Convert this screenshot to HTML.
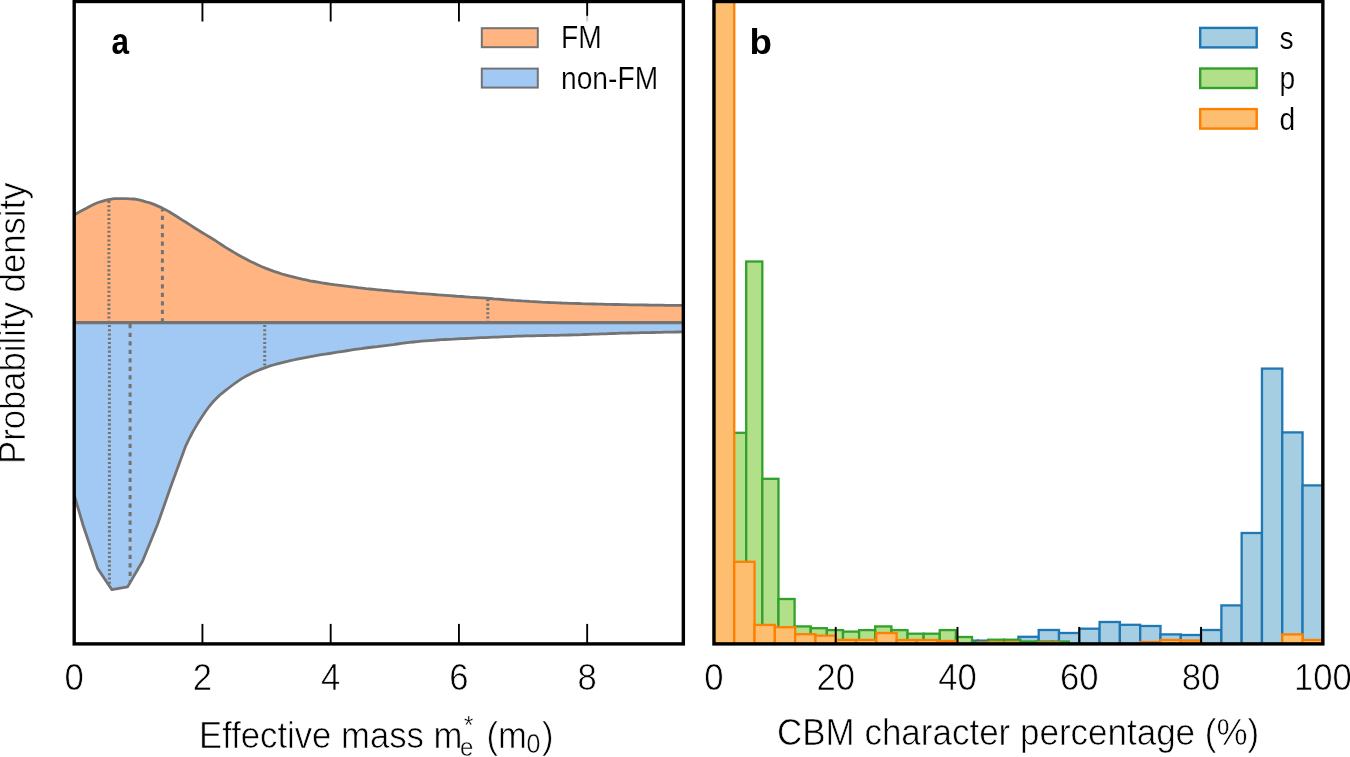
<!DOCTYPE html>
<html><head><meta charset="utf-8"><style>
html,body{margin:0;padding:0;background:#fff;overflow:hidden;}
body{width:1350px;height:757px;}
svg{display:block;will-change:transform;}
text{font-family:"Liberation Sans",sans-serif;}
text.t{stroke:#fff;stroke-width:0.6px;}
</style></head><body>
<svg width="1350" height="757" viewBox="0 0 1350 757">
<defs><clipPath id="ca"><rect x="74.20" y="1.50" width="609.15" height="642.40"/></clipPath>
<clipPath id="cb"><rect x="713.95" y="1.50" width="608.90" height="642.40"/></clipPath></defs>
<g clip-path="url(#ca)">
<polygon points="58.0,223.0 62.0,221.1 66.0,219.2 70.0,217.1 74.0,215.0 78.0,212.8 82.0,210.5 86.0,208.4 90.0,206.2 94.0,204.2 98.0,202.5 102.0,201.3 106.0,200.2 110.0,199.3 114.0,198.7 118.0,198.6 122.0,198.6 126.0,198.7 130.0,198.8 134.0,199.0 138.0,199.6 142.0,200.6 146.0,201.8 150.0,202.9 154.0,204.4 158.0,206.1 162.0,207.9 166.0,209.9 170.0,212.2 174.0,214.7 178.0,217.2 182.0,219.8 186.0,222.3 190.0,224.9 194.0,227.5 198.0,230.0 202.0,232.5 206.0,234.9 210.0,237.3 214.0,239.7 218.0,242.3 222.0,245.0 226.0,247.6 230.0,250.0 234.0,252.4 238.0,254.8 242.0,257.0 246.0,259.1 250.0,261.2 254.0,263.1 258.0,265.0 262.0,266.8 266.0,268.4 270.0,269.9 274.0,271.4 278.0,272.7 282.0,274.0 286.0,275.1 290.0,276.2 294.0,277.2 298.0,278.2 302.0,279.1 306.0,279.9 310.0,280.8 314.0,281.5 318.0,282.2 322.0,282.9 326.0,283.5 330.0,284.1 334.0,284.7 338.0,285.2 342.0,285.7 346.0,286.2 350.0,286.7 354.0,287.2 358.0,287.7 362.0,288.1 366.0,288.6 370.0,289.0 374.0,289.4 378.0,289.8 382.0,290.2 386.0,290.5 390.0,290.9 394.0,291.3 398.0,291.6 402.0,291.9 406.0,292.3 410.0,292.6 414.0,292.9 418.0,293.3 422.0,293.6 426.0,293.9 430.0,294.2 434.0,294.5 438.0,294.8 442.0,295.1 446.0,295.4 450.0,295.7 454.0,296.0 458.0,296.3 462.0,296.5 466.0,296.8 470.0,297.1 474.0,297.3 478.0,297.6 482.0,297.9 486.0,298.2 490.0,298.5 494.0,298.9 498.0,299.2 502.0,299.5 506.0,299.8 510.0,300.1 514.0,300.4 518.0,300.6 522.0,300.9 526.0,301.1 530.0,301.4 534.0,301.6 538.0,301.8 542.0,302.1 546.0,302.3 550.0,302.5 554.0,302.6 558.0,302.8 562.0,303.0 566.0,303.1 570.0,303.3 574.0,303.4 578.0,303.5 582.0,303.7 586.0,303.8 590.0,303.9 594.0,304.0 598.0,304.1 602.0,304.2 606.0,304.3 610.0,304.4 614.0,304.5 618.0,304.5 622.0,304.6 626.0,304.7 630.0,304.8 634.0,304.8 638.0,304.9 642.0,304.9 646.0,305.0 650.0,305.1 654.0,305.1 658.0,305.2 662.0,305.2 666.0,305.3 670.0,305.3 674.0,305.4 678.0,305.4 682.0,305.4 686.0,305.5 690.0,305.5 690.0,322.6 60.0,322.6" fill="#ffb482" stroke="none"/>
<polygon points="60.0,322.6 690.0,322.6 690.0,331.8 689.3,331.8 685.3,331.9 681.3,331.9 677.3,332.0 673.3,332.1 669.3,332.1 665.3,332.2 661.3,332.3 657.3,332.4 653.3,332.5 649.3,332.6 645.3,332.6 641.3,332.7 637.3,332.8 633.3,332.9 629.3,333.0 625.3,333.1 621.3,333.2 617.3,333.4 613.3,333.5 609.3,333.6 605.3,333.8 601.3,333.9 597.3,334.1 593.3,334.2 589.3,334.4 585.3,334.5 581.3,334.7 577.3,334.8 573.3,334.9 569.3,335.0 565.3,335.1 561.3,335.2 557.3,335.3 553.3,335.4 549.3,335.4 545.3,335.5 541.3,335.6 537.3,335.7 533.3,335.8 529.3,335.8 525.3,335.9 521.3,336.1 517.3,336.2 513.3,336.4 509.3,336.6 505.3,336.7 501.3,336.9 497.3,337.1 493.3,337.2 489.3,337.4 485.3,337.6 481.3,337.7 477.3,337.9 473.3,338.1 469.3,338.3 465.3,338.5 461.3,338.6 457.3,338.8 453.3,339.1 449.3,339.3 445.3,339.5 441.3,339.7 437.3,340.0 433.3,340.3 429.3,340.6 425.3,340.9 421.3,341.2 417.3,341.6 413.3,342.0 409.3,342.4 405.3,342.9 401.3,343.4 397.3,344.0 393.3,344.6 389.3,345.1 385.3,345.6 381.3,346.1 377.3,346.6 373.3,347.0 369.3,347.5 365.3,348.0 361.3,348.6 357.3,349.1 353.3,349.7 349.3,350.3 345.3,351.0 341.3,351.6 337.3,352.2 333.3,352.8 329.3,353.5 325.3,354.1 321.3,354.7 317.3,355.4 313.3,356.1 309.3,356.8 305.3,357.6 301.3,358.4 297.3,359.2 293.3,360.0 289.3,360.9 285.3,361.8 281.3,362.8 277.3,363.9 273.3,365.0 269.3,366.2 265.3,367.6 261.3,369.1 257.3,370.7 253.3,372.5 249.3,374.5 245.3,376.6 241.3,378.9 237.3,381.6 233.3,384.5 229.3,387.5 225.3,390.6 221.3,393.8 217.3,397.4 213.3,401.5 209.3,406.3 205.3,411.8 201.3,417.7 197.3,424.1 193.3,430.9 189.3,438.5 185.3,446.9 171.0,486.0 157.5,524.5 142.5,561.3 127.6,586.9 111.9,589.7 97.6,568.4 83.0,525.0 68.4,475.0" fill="#a1c9f4" stroke="none"/>
<polyline points="58.0,223.0 62.0,221.1 66.0,219.2 70.0,217.1 74.0,215.0 78.0,212.8 82.0,210.5 86.0,208.4 90.0,206.2 94.0,204.2 98.0,202.5 102.0,201.3 106.0,200.2 110.0,199.3 114.0,198.7 118.0,198.6 122.0,198.6 126.0,198.7 130.0,198.8 134.0,199.0 138.0,199.6 142.0,200.6 146.0,201.8 150.0,202.9 154.0,204.4 158.0,206.1 162.0,207.9 166.0,209.9 170.0,212.2 174.0,214.7 178.0,217.2 182.0,219.8 186.0,222.3 190.0,224.9 194.0,227.5 198.0,230.0 202.0,232.5 206.0,234.9 210.0,237.3 214.0,239.7 218.0,242.3 222.0,245.0 226.0,247.6 230.0,250.0 234.0,252.4 238.0,254.8 242.0,257.0 246.0,259.1 250.0,261.2 254.0,263.1 258.0,265.0 262.0,266.8 266.0,268.4 270.0,269.9 274.0,271.4 278.0,272.7 282.0,274.0 286.0,275.1 290.0,276.2 294.0,277.2 298.0,278.2 302.0,279.1 306.0,279.9 310.0,280.8 314.0,281.5 318.0,282.2 322.0,282.9 326.0,283.5 330.0,284.1 334.0,284.7 338.0,285.2 342.0,285.7 346.0,286.2 350.0,286.7 354.0,287.2 358.0,287.7 362.0,288.1 366.0,288.6 370.0,289.0 374.0,289.4 378.0,289.8 382.0,290.2 386.0,290.5 390.0,290.9 394.0,291.3 398.0,291.6 402.0,291.9 406.0,292.3 410.0,292.6 414.0,292.9 418.0,293.3 422.0,293.6 426.0,293.9 430.0,294.2 434.0,294.5 438.0,294.8 442.0,295.1 446.0,295.4 450.0,295.7 454.0,296.0 458.0,296.3 462.0,296.5 466.0,296.8 470.0,297.1 474.0,297.3 478.0,297.6 482.0,297.9 486.0,298.2 490.0,298.5 494.0,298.9 498.0,299.2 502.0,299.5 506.0,299.8 510.0,300.1 514.0,300.4 518.0,300.6 522.0,300.9 526.0,301.1 530.0,301.4 534.0,301.6 538.0,301.8 542.0,302.1 546.0,302.3 550.0,302.5 554.0,302.6 558.0,302.8 562.0,303.0 566.0,303.1 570.0,303.3 574.0,303.4 578.0,303.5 582.0,303.7 586.0,303.8 590.0,303.9 594.0,304.0 598.0,304.1 602.0,304.2 606.0,304.3 610.0,304.4 614.0,304.5 618.0,304.5 622.0,304.6 626.0,304.7 630.0,304.8 634.0,304.8 638.0,304.9 642.0,304.9 646.0,305.0 650.0,305.1 654.0,305.1 658.0,305.2 662.0,305.2 666.0,305.3 670.0,305.3 674.0,305.4 678.0,305.4 682.0,305.4 686.0,305.5 690.0,305.5" fill="none" stroke="#737373" stroke-width="2.8" stroke-linejoin="round"/>
<polyline points="68.4,475.0 83.0,525.0 97.6,568.4 111.9,589.7 127.6,586.9 142.5,561.3 157.5,524.5 171.0,486.0 185.3,446.9 189.3,438.5 193.3,430.9 197.3,424.1 201.3,417.7 205.3,411.8 209.3,406.3 213.3,401.5 217.3,397.4 221.3,393.8 225.3,390.6 229.3,387.5 233.3,384.5 237.3,381.6 241.3,378.9 245.3,376.6 249.3,374.5 253.3,372.5 257.3,370.7 261.3,369.1 265.3,367.6 269.3,366.2 273.3,365.0 277.3,363.9 281.3,362.8 285.3,361.8 289.3,360.9 293.3,360.0 297.3,359.2 301.3,358.4 305.3,357.6 309.3,356.8 313.3,356.1 317.3,355.4 321.3,354.7 325.3,354.1 329.3,353.5 333.3,352.8 337.3,352.2 341.3,351.6 345.3,351.0 349.3,350.3 353.3,349.7 357.3,349.1 361.3,348.6 365.3,348.0 369.3,347.5 373.3,347.0 377.3,346.6 381.3,346.1 385.3,345.6 389.3,345.1 393.3,344.6 397.3,344.0 401.3,343.4 405.3,342.9 409.3,342.4 413.3,342.0 417.3,341.6 421.3,341.2 425.3,340.9 429.3,340.6 433.3,340.3 437.3,340.0 441.3,339.7 445.3,339.5 449.3,339.3 453.3,339.1 457.3,338.8 461.3,338.6 465.3,338.5 469.3,338.3 473.3,338.1 477.3,337.9 481.3,337.7 485.3,337.6 489.3,337.4 493.3,337.2 497.3,337.1 501.3,336.9 505.3,336.7 509.3,336.6 513.3,336.4 517.3,336.2 521.3,336.1 525.3,335.9 529.3,335.8 533.3,335.8 537.3,335.7 541.3,335.6 545.3,335.5 549.3,335.4 553.3,335.4 557.3,335.3 561.3,335.2 565.3,335.1 569.3,335.0 573.3,334.9 577.3,334.8 581.3,334.7 585.3,334.5 589.3,334.4 593.3,334.2 597.3,334.1 601.3,333.9 605.3,333.8 609.3,333.6 613.3,333.5 617.3,333.4 621.3,333.2 625.3,333.1 629.3,333.0 633.3,332.9 637.3,332.8 641.3,332.7 645.3,332.6 649.3,332.6 653.3,332.5 657.3,332.4 661.3,332.3 665.3,332.2 669.3,332.1 673.3,332.1 677.3,332.0 681.3,331.9 685.3,331.9 689.3,331.8 690.0,331.8" fill="none" stroke="#737373" stroke-width="2.8" stroke-linejoin="round"/>
<line x1="60" y1="322.6" x2="690" y2="322.6" stroke="#737373" stroke-width="3.2"/>
<line x1="108.9" y1="322.6" x2="108.9" y2="200.51370017896406" stroke="#737373" stroke-width="3.0" stroke-dasharray="2.05 2.23" stroke-dashoffset="0.15"/>
<line x1="162.4" y1="322.6" x2="162.4" y2="209.13154859795802" stroke="#737373" stroke-width="3.0" stroke-dasharray="4.27 4.27" stroke-dashoffset="0"/>
<line x1="487.8" y1="322.6" x2="487.8" y2="299.34666258467263" stroke="#737373" stroke-width="3.0" stroke-dasharray="2.05 2.23" stroke-dashoffset="0.15"/>
<line x1="109.4" y1="322.6" x2="109.4" y2="584.9762237762238" stroke="#737373" stroke-width="3.0" stroke-dasharray="2.05 2.23" stroke-dashoffset="1.95"/>
<line x1="130.1" y1="322.6" x2="130.1" y2="581.6046979865772" stroke="#737373" stroke-width="3.0" stroke-dasharray="4.27 4.27" stroke-dashoffset="-1.5"/>
<line x1="264.7" y1="322.6" x2="264.7" y2="366.8040854311224" stroke="#737373" stroke-width="3.0" stroke-dasharray="2.05 2.23" stroke-dashoffset="1.95"/>
</g>
<g clip-path="url(#cb)">
<rect x="957.51" y="640.60" width="20.30" height="3.30" fill="#a6cee3" stroke="#1f78b4" stroke-width="2.3"/>
<rect x="977.81" y="640.60" width="20.30" height="3.30" fill="#a6cee3" stroke="#1f78b4" stroke-width="2.3"/>
<rect x="998.10" y="641.20" width="20.30" height="2.70" fill="#a6cee3" stroke="#1f78b4" stroke-width="2.3"/>
<rect x="1018.40" y="636.80" width="20.30" height="7.10" fill="#a6cee3" stroke="#1f78b4" stroke-width="2.3"/>
<rect x="1038.70" y="630.00" width="20.30" height="13.90" fill="#a6cee3" stroke="#1f78b4" stroke-width="2.3"/>
<rect x="1058.99" y="633.00" width="20.30" height="10.90" fill="#a6cee3" stroke="#1f78b4" stroke-width="2.3"/>
<rect x="1079.29" y="628.70" width="20.30" height="15.20" fill="#a6cee3" stroke="#1f78b4" stroke-width="2.3"/>
<rect x="1099.59" y="622.00" width="20.30" height="21.90" fill="#a6cee3" stroke="#1f78b4" stroke-width="2.3"/>
<rect x="1119.88" y="624.80" width="20.30" height="19.10" fill="#a6cee3" stroke="#1f78b4" stroke-width="2.3"/>
<rect x="1140.18" y="626.00" width="20.30" height="17.90" fill="#a6cee3" stroke="#1f78b4" stroke-width="2.3"/>
<rect x="1160.48" y="634.40" width="20.30" height="9.50" fill="#a6cee3" stroke="#1f78b4" stroke-width="2.3"/>
<rect x="1180.77" y="635.00" width="20.30" height="8.90" fill="#a6cee3" stroke="#1f78b4" stroke-width="2.3"/>
<rect x="1201.07" y="630.00" width="20.30" height="13.90" fill="#a6cee3" stroke="#1f78b4" stroke-width="2.3"/>
<rect x="1221.37" y="605.40" width="20.30" height="38.50" fill="#a6cee3" stroke="#1f78b4" stroke-width="2.3"/>
<rect x="1241.66" y="533.00" width="20.30" height="110.90" fill="#a6cee3" stroke="#1f78b4" stroke-width="2.3"/>
<rect x="1261.96" y="368.60" width="20.30" height="275.30" fill="#a6cee3" stroke="#1f78b4" stroke-width="2.3"/>
<rect x="1282.26" y="432.40" width="20.30" height="211.50" fill="#a6cee3" stroke="#1f78b4" stroke-width="2.3"/>
<rect x="1302.55" y="485.40" width="20.30" height="158.50" fill="#a6cee3" stroke="#1f78b4" stroke-width="2.3"/>
<rect x="713.95" y="-50.00" width="16.13" height="693.90" fill="#b2df8a" stroke="#33a02c" stroke-width="2.3"/>
<rect x="730.08" y="432.80" width="16.13" height="211.10" fill="#b2df8a" stroke="#33a02c" stroke-width="2.3"/>
<rect x="746.21" y="261.50" width="16.13" height="382.40" fill="#b2df8a" stroke="#33a02c" stroke-width="2.3"/>
<rect x="762.34" y="478.80" width="16.13" height="165.10" fill="#b2df8a" stroke="#33a02c" stroke-width="2.3"/>
<rect x="778.47" y="599.00" width="16.13" height="44.90" fill="#b2df8a" stroke="#33a02c" stroke-width="2.3"/>
<rect x="794.60" y="626.40" width="16.13" height="17.50" fill="#b2df8a" stroke="#33a02c" stroke-width="2.3"/>
<rect x="810.73" y="628.20" width="16.13" height="15.70" fill="#b2df8a" stroke="#33a02c" stroke-width="2.3"/>
<rect x="826.86" y="630.10" width="16.13" height="13.80" fill="#b2df8a" stroke="#33a02c" stroke-width="2.3"/>
<rect x="842.99" y="631.60" width="16.13" height="12.30" fill="#b2df8a" stroke="#33a02c" stroke-width="2.3"/>
<rect x="859.12" y="630.10" width="16.13" height="13.80" fill="#b2df8a" stroke="#33a02c" stroke-width="2.3"/>
<rect x="875.25" y="626.40" width="16.13" height="17.50" fill="#b2df8a" stroke="#33a02c" stroke-width="2.3"/>
<rect x="891.38" y="630.10" width="16.13" height="13.80" fill="#b2df8a" stroke="#33a02c" stroke-width="2.3"/>
<rect x="907.51" y="633.70" width="16.13" height="10.20" fill="#b2df8a" stroke="#33a02c" stroke-width="2.3"/>
<rect x="923.64" y="633.70" width="16.13" height="10.20" fill="#b2df8a" stroke="#33a02c" stroke-width="2.3"/>
<rect x="939.77" y="630.10" width="16.13" height="13.80" fill="#b2df8a" stroke="#33a02c" stroke-width="2.3"/>
<rect x="955.90" y="637.00" width="16.13" height="6.90" fill="#b2df8a" stroke="#33a02c" stroke-width="2.3"/>
<rect x="972.03" y="642.30" width="16.13" height="1.60" fill="#b2df8a" stroke="#33a02c" stroke-width="2.3"/>
<rect x="988.16" y="639.70" width="16.13" height="4.20" fill="#b2df8a" stroke="#33a02c" stroke-width="2.3"/>
<rect x="1004.29" y="639.70" width="16.13" height="4.20" fill="#b2df8a" stroke="#33a02c" stroke-width="2.3"/>
<rect x="1020.42" y="641.50" width="16.13" height="2.40" fill="#b2df8a" stroke="#33a02c" stroke-width="2.3"/>
<rect x="1036.55" y="641.50" width="16.13" height="2.40" fill="#b2df8a" stroke="#33a02c" stroke-width="2.3"/>
<rect x="1052.68" y="641.50" width="16.13" height="2.40" fill="#b2df8a" stroke="#33a02c" stroke-width="2.3"/>
<rect x="713.95" y="-50.00" width="20.30" height="693.90" fill="#fdbf6f" stroke="#ff7f00" stroke-width="2.3"/>
<rect x="734.25" y="561.80" width="20.30" height="82.10" fill="#fdbf6f" stroke="#ff7f00" stroke-width="2.3"/>
<rect x="754.54" y="624.90" width="20.30" height="19.00" fill="#fdbf6f" stroke="#ff7f00" stroke-width="2.3"/>
<rect x="774.84" y="627.20" width="20.30" height="16.70" fill="#fdbf6f" stroke="#ff7f00" stroke-width="2.3"/>
<rect x="795.14" y="634.20" width="20.30" height="9.70" fill="#fdbf6f" stroke="#ff7f00" stroke-width="2.3"/>
<rect x="815.43" y="635.60" width="20.30" height="8.30" fill="#fdbf6f" stroke="#ff7f00" stroke-width="2.3"/>
<rect x="835.73" y="639.90" width="20.30" height="4.00" fill="#fdbf6f" stroke="#ff7f00" stroke-width="2.3"/>
<rect x="856.03" y="639.90" width="20.30" height="4.00" fill="#fdbf6f" stroke="#ff7f00" stroke-width="2.3"/>
<rect x="876.32" y="633.00" width="20.30" height="10.90" fill="#fdbf6f" stroke="#ff7f00" stroke-width="2.3"/>
<rect x="896.62" y="640.00" width="20.30" height="3.90" fill="#fdbf6f" stroke="#ff7f00" stroke-width="2.3"/>
<rect x="916.92" y="640.00" width="20.30" height="3.90" fill="#fdbf6f" stroke="#ff7f00" stroke-width="2.3"/>
<rect x="937.21" y="641.00" width="20.30" height="2.90" fill="#fdbf6f" stroke="#ff7f00" stroke-width="2.3"/>
<rect x="977.81" y="642.50" width="20.30" height="1.40" fill="#fdbf6f" stroke="#ff7f00" stroke-width="2.3"/>
<rect x="998.10" y="642.50" width="20.30" height="1.40" fill="#fdbf6f" stroke="#ff7f00" stroke-width="2.3"/>
<rect x="1038.70" y="642.50" width="20.30" height="1.40" fill="#fdbf6f" stroke="#ff7f00" stroke-width="2.3"/>
<rect x="1140.18" y="642.00" width="20.30" height="1.90" fill="#fdbf6f" stroke="#ff7f00" stroke-width="2.3"/>
<rect x="1160.48" y="640.00" width="20.30" height="3.90" fill="#fdbf6f" stroke="#ff7f00" stroke-width="2.3"/>
<rect x="1180.77" y="640.50" width="20.30" height="3.40" fill="#fdbf6f" stroke="#ff7f00" stroke-width="2.3"/>
<rect x="1282.26" y="634.40" width="20.30" height="9.50" fill="#fdbf6f" stroke="#ff7f00" stroke-width="2.3"/>
<rect x="1302.55" y="640.00" width="20.30" height="3.90" fill="#fdbf6f" stroke="#ff7f00" stroke-width="2.3"/>
</g>
<rect x="74.20" y="1.50" width="609.15" height="642.40" fill="none" stroke="#000" stroke-width="3.4"/>
<rect x="713.95" y="1.50" width="608.90" height="642.40" fill="none" stroke="#000" stroke-width="3.4"/>
<line x1="202.44" y1="643.9" x2="202.44" y2="623.9" stroke="#000" stroke-width="1.9"/>
<line x1="202.44" y1="1.5" x2="202.44" y2="21.5" stroke="#000" stroke-width="1.9"/>
<line x1="330.68" y1="643.9" x2="330.68" y2="623.9" stroke="#000" stroke-width="1.9"/>
<line x1="330.68" y1="1.5" x2="330.68" y2="21.5" stroke="#000" stroke-width="1.9"/>
<line x1="458.93" y1="643.9" x2="458.93" y2="623.9" stroke="#000" stroke-width="1.9"/>
<line x1="458.93" y1="1.5" x2="458.93" y2="21.5" stroke="#000" stroke-width="1.9"/>
<line x1="587.17" y1="643.9" x2="587.17" y2="623.9" stroke="#000" stroke-width="1.9"/>
<line x1="587.17" y1="1.5" x2="587.17" y2="21.5" stroke="#000" stroke-width="1.9"/>
<line x1="835.73" y1="643.9" x2="835.73" y2="626.9" stroke="#000" stroke-width="1.9"/>
<line x1="957.51" y1="643.9" x2="957.51" y2="626.9" stroke="#000" stroke-width="1.9"/>
<line x1="1079.29" y1="643.9" x2="1079.29" y2="626.9" stroke="#000" stroke-width="1.9"/>
<line x1="1201.07" y1="643.9" x2="1201.07" y2="626.9" stroke="#000" stroke-width="1.9"/>
<text transform="translate(74.20,689.7) scale(1,1.075)" class="t" font-family="Liberation Sans, sans-serif" font-size="34.7" text-anchor="middle">0</text>
<text transform="translate(202.44,689.7) scale(1,1.075)" class="t" font-family="Liberation Sans, sans-serif" font-size="34.7" text-anchor="middle">2</text>
<text transform="translate(330.68,689.7) scale(1,1.075)" class="t" font-family="Liberation Sans, sans-serif" font-size="34.7" text-anchor="middle">4</text>
<text transform="translate(458.93,689.7) scale(1,1.075)" class="t" font-family="Liberation Sans, sans-serif" font-size="34.7" text-anchor="middle">6</text>
<text transform="translate(587.17,689.7) scale(1,1.075)" class="t" font-family="Liberation Sans, sans-serif" font-size="34.7" text-anchor="middle">8</text>
<text transform="translate(713.95,689.7) scale(1,1.075)" class="t" font-family="Liberation Sans, sans-serif" font-size="34.7" text-anchor="middle">0</text>
<text transform="translate(835.73,689.7) scale(1,1.075)" class="t" font-family="Liberation Sans, sans-serif" font-size="34.7" text-anchor="middle">20</text>
<text transform="translate(957.51,689.7) scale(1,1.075)" class="t" font-family="Liberation Sans, sans-serif" font-size="34.7" text-anchor="middle">40</text>
<text transform="translate(1079.29,689.7) scale(1,1.075)" class="t" font-family="Liberation Sans, sans-serif" font-size="34.7" text-anchor="middle">60</text>
<text transform="translate(1201.07,689.7) scale(1,1.075)" class="t" font-family="Liberation Sans, sans-serif" font-size="34.7" text-anchor="middle">80</text>
<text transform="translate(1322.85,689.7) scale(1,1.075)" class="t" font-family="Liberation Sans, sans-serif" font-size="34.7" text-anchor="middle">100</text>
<text transform="translate(199,747.5) scale(1,1.075)" class="t" font-family="Liberation Sans, sans-serif" font-size="34.7">Effective mass m</text>
<text transform="translate(460,755.5) scale(1,1.075)" class="t" font-family="Liberation Sans, sans-serif" font-size="24" style="stroke-width:0.4px">e</text>
<text transform="translate(464,734) scale(1,1.075)" class="t" font-family="Liberation Sans, sans-serif" font-size="24" style="stroke-width:0.3px">*</text>
<text transform="translate(486.5,747.5) scale(1,1.075)" class="t" font-family="Liberation Sans, sans-serif" font-size="34.7">(m</text>
<text transform="translate(526.5,752.5) scale(1,1.075)" class="t" font-family="Liberation Sans, sans-serif" font-size="25" style="stroke-width:0.4px">0</text>
<text transform="translate(542,747.5) scale(1,1.075)" class="t" font-family="Liberation Sans, sans-serif" font-size="34.7">)</text>
<text transform="translate(776.9,744.5) scale(1,1.075)" class="t" font-family="Liberation Sans, sans-serif" font-size="35">CBM character percentage (%)</text>
<text transform="translate(24.8,464) rotate(-90) scale(1,1.075)" class="t" font-family="Liberation Sans, sans-serif" font-size="34.7">Probability density</text>
<text transform="translate(111.5,53.6) scale(0.9,1.03)" font-family="Liberation Sans, sans-serif" font-size="35" font-weight="bold">a</text>
<text transform="translate(749.6,53.7) scale(1.05,1.0)" font-family="Liberation Sans, sans-serif" font-size="35" font-weight="bold">b</text>
<rect x="468" y="15.8" width="205" height="90" fill="#fff" fill-opacity="0.8"/>
<rect x="481.8" y="28.2" width="56" height="19" fill="#ffb482" stroke="#737373" stroke-width="2"/>
<rect x="481.8" y="68.6" width="56" height="19" fill="#a1c9f4" stroke="#737373" stroke-width="2"/>
<text transform="translate(561,48.3) scale(1,1.09)" class="t" font-family="Liberation Sans, sans-serif" font-size="28.2" style="stroke-width:0.2px">FM</text>
<text transform="translate(561,88.7) scale(1,1.09)" class="t" font-family="Liberation Sans, sans-serif" font-size="28.2" style="stroke-width:0.2px">non-FM</text>
<rect x="1200.2" y="27.9" width="56.5" height="19.5" fill="#a6cee3" stroke="#1f78b4" stroke-width="2.4"/>
<text transform="translate(1279.5,48.5) scale(1,1.09)" class="t" font-family="Liberation Sans, sans-serif" font-size="28.2" style="stroke-width:0.2px">s</text>
<rect x="1200.2" y="68.5" width="56.5" height="19.5" fill="#b2df8a" stroke="#33a02c" stroke-width="2.4"/>
<text transform="translate(1279.5,88.8) scale(1,1.09)" class="t" font-family="Liberation Sans, sans-serif" font-size="28.2" style="stroke-width:0.2px">p</text>
<rect x="1200.2" y="109.1" width="56.5" height="19.5" fill="#fdbf6f" stroke="#ff7f00" stroke-width="2.4"/>
<text transform="translate(1279.5,129.5) scale(1,1.09)" class="t" font-family="Liberation Sans, sans-serif" font-size="28.2" style="stroke-width:0.2px">d</text>
</svg>
</body></html>
